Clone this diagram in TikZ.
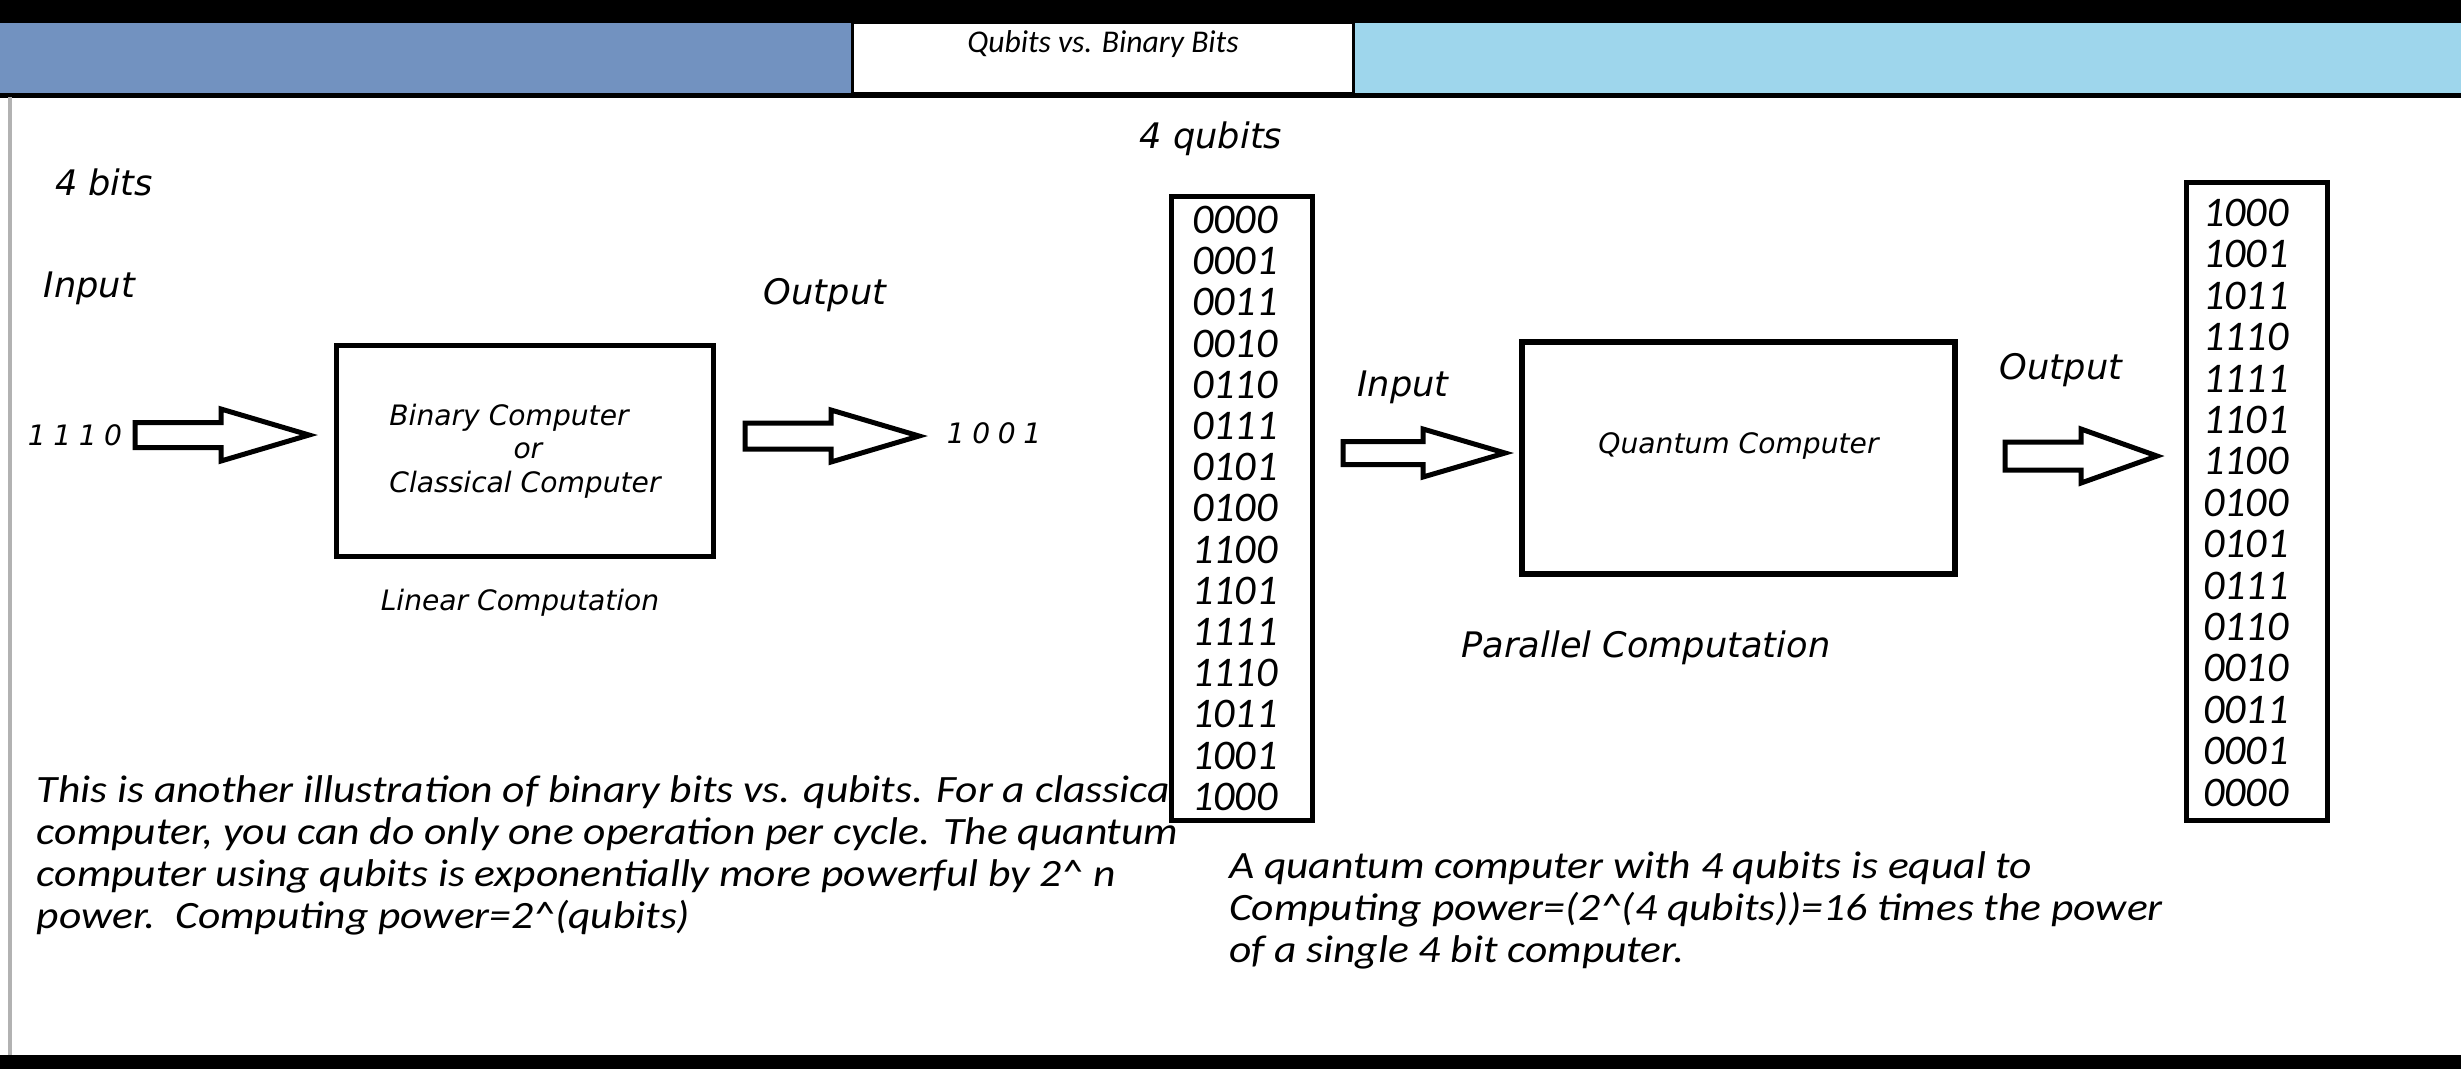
\documentclass[tikz,border=0pt]{standalone}
\usepackage{fontspec}
\setmainfont{Carlito}
\newfontfamily\notefont[FakeStretch=1.125]{Carlito}
\newfontfamily\labelfont{DejaVu Sans Oblique}
\newfontfamily\bitsfont[LetterSpace=27]{DejaVu Sans Oblique}
\usetikzlibrary{positioning}
\definecolor{barleft}{RGB}{114,146,192}
\definecolor{barright}{RGB}{158,214,236}

\begin{document}
\begin{tikzpicture}
[x=0.01cm,y=-0.01cm,
 every node/.style={inner sep=0pt,outer sep=0pt},
 box/.style={draw=black,line width=0.055cm,fill=white},
 col/.style={draw=black,line width=0.05cm,fill=white,minimum width=1.4cm},
 lbl/.style={font=\labelfont\fontsize{10}{12}\selectfont},
 small/.style={font=\labelfont\fontsize{8}{9.6}\selectfont},
 bits/.style={font=\bitsfont\fontsize{8}{9.6}\selectfont},
 entry/.style={anchor=west,font=\itshape\fontsize{12}{14}\selectfont},
 para/.style={anchor=north west,align=left,font=\notefont\itshape\fontsize{11}{11.95}\selectfont},
 blockarr/.style={draw=black,line width=0.05cm,fill=white,line join=miter}]
\useasboundingbox[fill=white] (0,0) rectangle (2461,1069);

% header bar
\fill[black] (0,0) rectangle (2461,23);
\fill[barleft] (0,23) rectangle (853,93);
\fill[barright] (1353,23) rectangle (2461,93);
\node[draw=black,line width=0.03cm,fill=white,minimum width=5cm,minimum height=0.71cm] (titlebox) at (1103,58) {};
\node[font=\itshape\fontsize{9}{11}\selectfont] (title) at ([yshift=0.14cm]titlebox.center) {Qubits vs. Binary Bits};
\draw[black,line width=0.05cm] (0,95) -- (2461,95);
\draw[gray!60,line width=0.03cm] (10,97) -- (10,1055);
\fill[black] (0,1055) rectangle (2461,1069);

% notes (the qubit column is drawn over the end of the first line)
\node[para] (noteleft) at (37,776) {This is another illustration of binary bits vs. qubits. For a classical\\
  computer, you can do only one operation per cycle. The quantum\\
  computer using qubits is exponentially more powerful by 2\^{} n\\
  power.\ \ Computing power=2\^{}(qubits)};
\node[para] (noteright) at (1229,852) {A quantum computer with 4 qubits is equal to\\
  Computing power=(2\^{}(4 qubits))=16 times the power\\
  of a single 4 bit computer.};

% classical side
\node[lbl,anchor=west] (bits4) at (55,182) {4 bits};
\node[lbl,anchor=west] (cin) at (44,288) {Input};
\node[lbl] (cout) at (825,295) {Output};
\node[bits] (cval) at (75,435) {1110};
\node[box,minimum width=3.77cm,minimum height=2.11cm,align=left,small] (binary) at (525,451)
  {Binary Computer\\\hspace*{1.24cm}or\\Classical Computer};
\node[small] (linear) at (520,603) {Linear Computation};
\node[bits] (rval) at (994,433) {1001};

% quantum side
\node[lbl] (qbits4) at (1211,139) {4 qubits};
\node[col,minimum height=6.23cm] (qin) at (1242,508.5) {};
\foreach \v [count=\i from 0] in {0000,0001,0011,0010,0110,0111,0101,0100,1100,1101,1111,1110,1011,1001,1000}
  \node[entry] (in\i) at (1192,220+41.2*\i) {\v};
\node[lbl] (qinlbl) at (1403,387) {Input};
\node[box,minimum width=4.33cm,minimum height=2.32cm] (quantum) at (1738.5,458) {};
\node[small] (qlabel) at ([yshift=0.12cm]quantum.center) {Quantum Computer};
\node[lbl] (parallel) at (1646,648) {Parallel Computation};
\node[lbl] (qoutlbl) at (2061,370) {Output};
\node[col,minimum height=6.37cm] (qout) at (2257,501.5) {};
\foreach \v [count=\i from 0] in {1000,1001,1011,1110,1111,1101,1100,0100,0101,0111,0110,0010,0011,0001,0000}
  \node[entry] (out\i) at (2203,213+41.4*\i) {\v};

% block arrows
\foreach \xa/\xb/\xc/\yc/\s/\h in {135/221/309/435/12.5/26, 745/831/919/436/13/26,
    1343/1423/1505/453/11.5/24, 2005/2081/2157/456/14/27}
  \draw[blockarr] (\xa,\yc-\s) -- (\xb,\yc-\s) -- (\xb,\yc-\h) -- (\xc,\yc)
    -- (\xb,\yc+\h) -- (\xb,\yc+\s) -- (\xa,\yc+\s) -- cycle;
\end{tikzpicture}
\end{document}
